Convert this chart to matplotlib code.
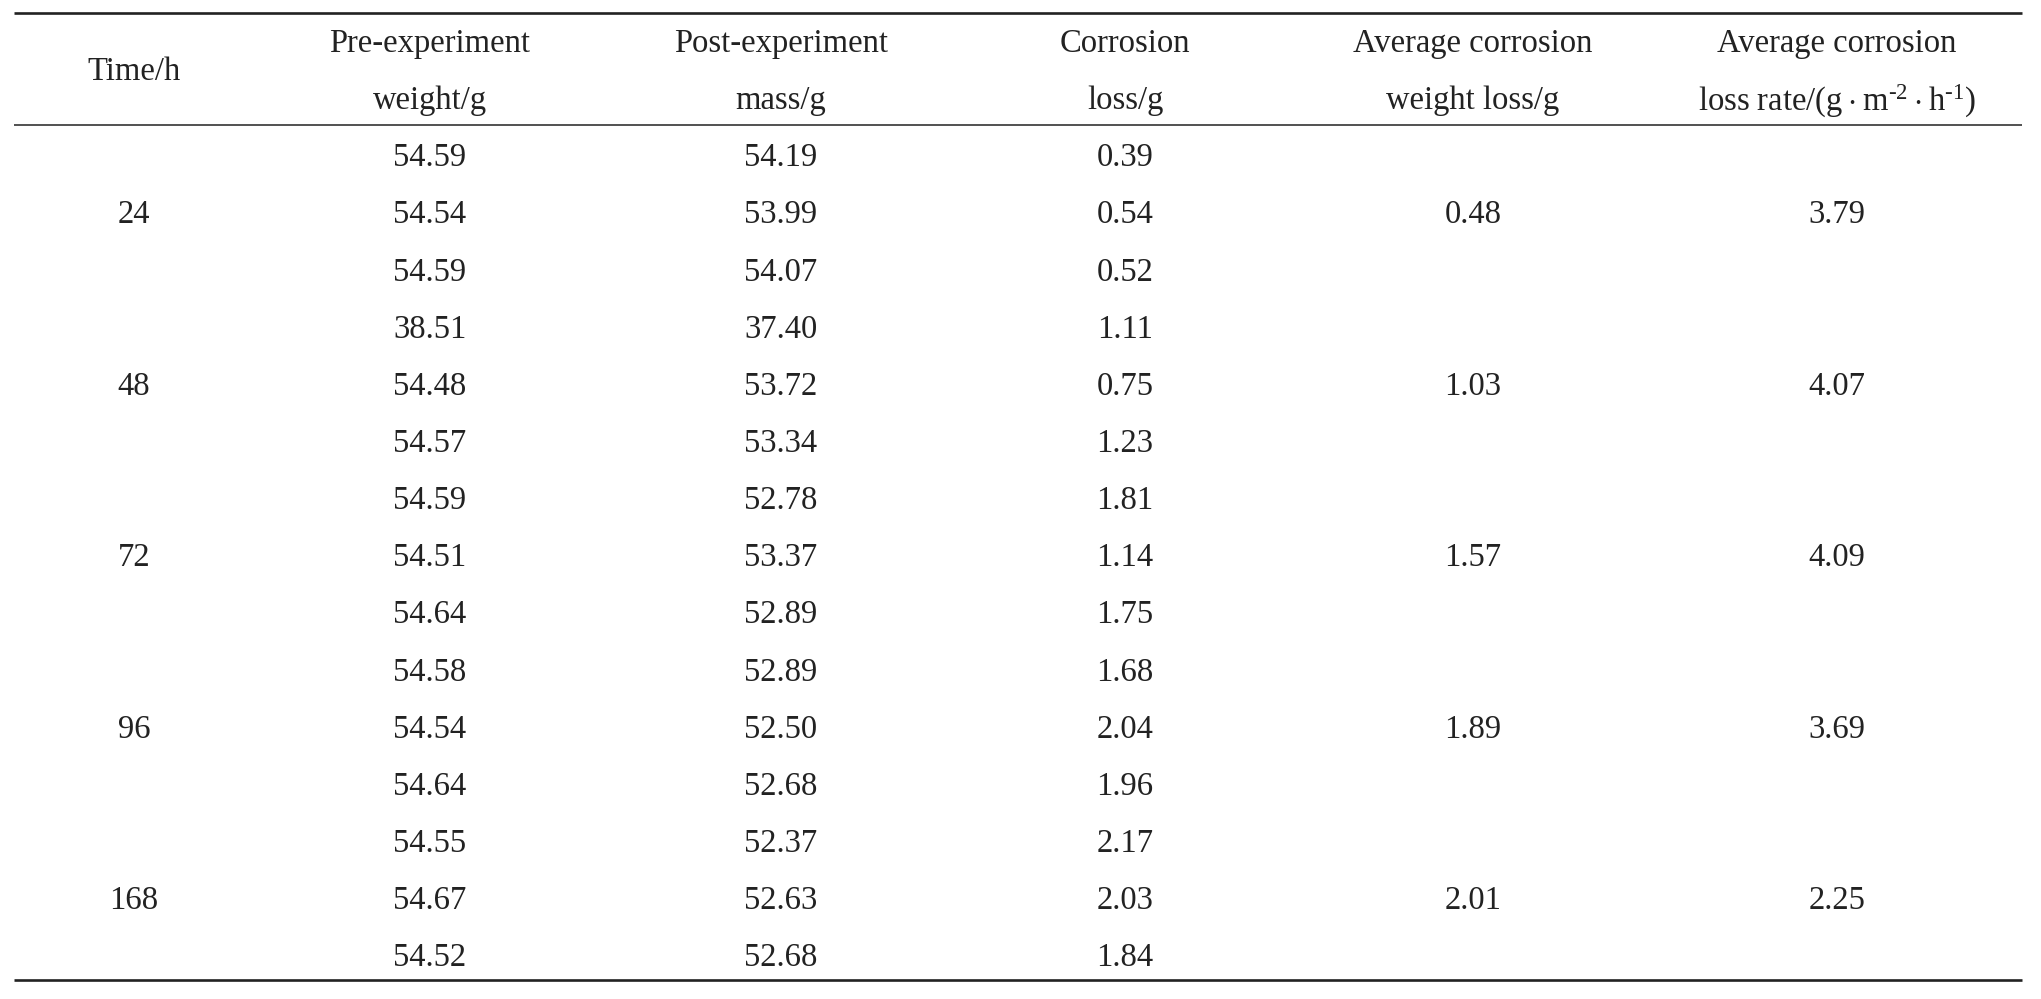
import matplotlib.pyplot as plt

plt.rcParams['font.family'] = ['Liberation Serif', 'DejaVu Serif']
plt.rcParams['mathtext.fontset'] = 'custom'
plt.rcParams['mathtext.rm'] = 'Liberation Serif'
plt.rcParams['mathtext.it'] = 'Liberation Serif:italic'

# table data
headers = [
    ["Time/h"],
    ["Pre-experiment", "weight/g"],
    ["Post-experiment", "mass/g"],
    ["Corrosion", "loss/g"],
    ["Average corrosion", "weight loss/g"],
    ["Average corrosion",
     "loss rate/(g$\\hspace{0.04}\\cdot\\hspace{0.04}$m$^{\\mathregular{\u20102}}$"
     "$\\hspace{0.04}\\cdot\\hspace{0.04}$h$^{\\mathregular{\u20101}}$)"],
]
times = ["24", "48", "72", "96", "168"]
pre_weight = ["54.59", "54.54", "54.59",
              "38.51", "54.48", "54.57",
              "54.59", "54.51", "54.64",
              "54.58", "54.54", "54.64",
              "54.55", "54.67", "54.52"]
post_mass = ["54.19", "53.99", "54.07",
             "37.40", "53.72", "53.34",
             "52.78", "53.37", "52.89",
             "52.89", "52.50", "52.68",
             "52.37", "52.63", "52.68"]
corr_loss = ["0.39", "0.54", "0.52",
             "1.11", "0.75", "1.23",
             "1.81", "1.14", "1.75",
             "1.68", "2.04", "1.96",
             "2.17", "2.03", "1.84"]
avg_loss = ["0.48", "1.03", "1.57", "1.89", "2.01"]
avg_rate = ["3.79", "4.07", "4.09", "3.69", "2.25"]

W, H = 2041, 999
fig = plt.figure(figsize=(W / 100, H / 100), dpi=100)
ax = fig.add_axes([0, 0, 1, 1])
ax.set_xlim(0, W)
ax.set_ylim(H, 0)
ax.axis('off')

col_x = [134, 430, 781, 1125, 1473, 1837]
fs = 23.5
ink = '#222222'

# rules
ax.hlines(13, 14, 2022, color=ink, lw=1.9)
ax.hlines(125, 14, 2022, color=ink, lw=1.1)
ax.hlines(980, 14, 2022, color=ink, lw=1.9)

# header
for x, h in zip(col_x, headers):
    if len(h) == 1:
        ax.text(x, 72, h[0], ha='center', va='center', fontsize=fs, color=ink)
    else:
        ax.text(x, 44, h[0], ha='center', va='center', fontsize=fs, color=ink)
        ax.text(x, 101, h[1], ha='center', va='center', fontsize=fs, color=ink)

# body
y0, dy = 158, 57.15
for i in range(len(pre_weight)):
    y = y0 + i * dy
    ax.text(col_x[1], y, pre_weight[i], ha='center', va='center', fontsize=fs, color=ink)
    ax.text(col_x[2], y, post_mass[i], ha='center', va='center', fontsize=fs, color=ink)
    ax.text(col_x[3], y, corr_loss[i], ha='center', va='center', fontsize=fs, color=ink)

for g in range(len(times)):
    y = y0 + (3 * g + 1) * dy
    ax.text(col_x[0], y, times[g], ha='center', va='center', fontsize=fs, color=ink)
    ax.text(col_x[4], y, avg_loss[g], ha='center', va='center', fontsize=fs, color=ink)
    ax.text(col_x[5], y, avg_rate[g], ha='center', va='center', fontsize=fs, color=ink)

fig.savefig('out.png', dpi=100)
